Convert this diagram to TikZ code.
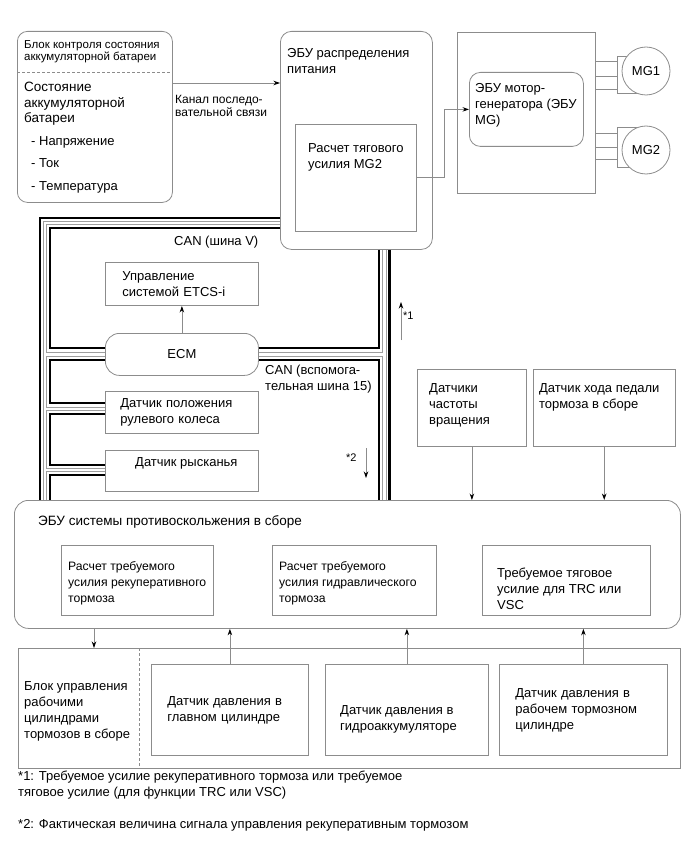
\documentclass[tikz,border=0pt]{standalone}
\usepackage{fontspec}
\setmainfont{Liberation Sans}
\usepackage{tikz}
\usetikzlibrary{positioning}
\usetikzlibrary{arrows.meta}
\usetikzlibrary{calc}
\definecolor{boxgray}{rgb}{0.55,0.55,0.55}
\definecolor{wiregray}{rgb}{0.62,0.62,0.62}

\begin{document}
\begin{tikzpicture}[
            x = 1pt, y = -1pt, % one unit per pixel, y going down
            > = {Stealth[length=6.5pt, width=4.5pt, black]}, % arrow head style
            font = \fontsize{13}{16}\selectfont,
            line join = miter
        ]

        \tikzstyle{box}=[
            draw = boxgray,
            line width = 0.8pt,
            fill = white,
            inner sep = 0pt,
            anchor = north west,
            align = left
        ]
        \tikzstyle{rbox}=[box, rounded corners = 11pt]
        \tikzstyle{txt}=[inner sep = 0pt, anchor = north west, align = left]
        \tikzstyle{sig}=[draw = boxgray, line width = 0.8pt, ->]
        \tikzstyle{wire}=[draw = boxgray, line width = 0.8pt]
        \tikzstyle{canH}=[line width = 2.1pt, black]
        \tikzstyle{canL}=[line width = 0.7pt, wiregray]

        \useasboundingbox (0,0) rectangle (690,853);

        % battery monitor
        \node[rbox, rounded corners = 10pt, minimum width = 155pt, minimum height = 171pt] (BAT) at (17,31) {};
        \node[txt, font = \fontsize{11.5}{12.5}\selectfont] (BATt) at (24,40) {Блок контроля состояния\\аккумуляторной батареи};
        \draw[wire, dash pattern = on 3pt off 2pt] ($(BAT.north west)+(0,41)$) -- ($(BAT.north east)+(0,41)$);
        \node[txt, font = \fontsize{13.5}{15.5}\selectfont] (BATs) at (24,82) {Состояние\\аккумуляторной\\батареи};
        \node[txt] (BATi) at (31,136) {- Напряжение\\[6.5pt]- Ток\\[6.5pt]- Температура};

        % power management
        \node[rbox, minimum width = 152pt, minimum height = 218pt] (PECU) at (280,31) {};
        \node[txt] (PECUt) at (287,48) {ЭБУ распределения\\питания};
        \node[box, minimum width = 121pt, minimum height = 107pt] (PCALC) at (295,124) {};
        \node[txt] (PCALCt) at (308,143) {Расчет тягового\\усилия MG2};

        \coordinate (SL) at ($(BAT.north east)+(0,52)$);
        \draw[sig] (SL) -- (SL -| PECU.west);
        \node[txt, font = \fontsize{12}{13}\selectfont] (SLt) at (175,95) {Канал последо-\\вательной связи};

        % motor generator
        \node[box, minimum width = 138pt, minimum height = 161pt] (MGB) at (457,32) {};
        \node[rbox, minimum width = 114pt, minimum height = 74pt] (MGECU) at (469,72) {};
        \node[txt] (MGECUt) at (475,83) {ЭБУ мотор-\\генератора (ЭБУ\\MG)};
        \draw[sig] (PCALC.east) -- ++(28,0) |- (MGECU.west);

        \node[box, minimum width = 26pt, minimum height = 37pt] (MG1B) at (617,56) {};
        \node[box, minimum width = 26pt, minimum height = 40pt] (MG2B) at (617,127) {};
        \node[box, circle, minimum size = 48pt, anchor = center] (MG1) at (646,71) {MG1};
        \node[box, circle, minimum size = 48pt, anchor = center] (MG2) at (646,150) {MG2};
        \draw[wire] (MGB.east |- 0,61) -- (MG1B.west |- 0,61);
        \draw[wire] (MGB.east |- 0,76) -- (MG1B.west |- 0,76);
        \draw[wire] (MGB.east |- 0,89) -- (MG1B.west |- 0,89);
        \draw[wire] (MGB.east |- 0,133) -- (MG2B.west |- 0,133);
        \draw[wire] (MGB.east |- 0,147) -- (MG2B.west |- 0,147);
        \draw[wire] (MGB.east |- 0,159) -- (MG2B.west |- 0,159);

        % engine control
        \node[rbox, rounded corners = 14pt, minimum width = 153pt, minimum height = 42pt, align = center] (ECM) at (105,333) {ECM};
        \node[box, text width = 119pt, inner xsep = 17pt, minimum height = 43pt] (ETCS) [above = 27pt of ECM] {Управление\\системой ETCS-i};
        \draw[sig] (ECM) -- (ETCS);

        \node[box, text width = 123pt, inner xsep = 15pt, minimum height = 42pt] (STR) [below = 15pt of ECM] {Датчик положения\\рулевого колеса};
        \node[box, minimum width = 153pt, minimum height = 41pt] (YAW) [below = 16pt of STR] {};
        \node[txt] (YAWt) at ($(YAW.north west)+(30,8)$) {Датчик рысканья};

        \node[txt] (CANV) at (174,236) {CAN (шина V)};
        \node[txt] (CAN15) at (265,365) {CAN (вспомога-\\тельная шина 15)};

        % CAN buses, outer pair
        \draw[canH] (PECU.west |- 0,218) -- (40,218) -- (40,500);
        \draw[canL] (PECU.west |- 0,221.5) -- (43.5,221.5) -- (43.5,500);
        \draw[canL] (PECU.south -| 386,0) -- (386,500);
        \draw[canH] (PECU.south -| 389.5,0) -- (389.5,500);

        % CAN buses, inner pair
        \draw[canL] (PECU.west |- 0,224.5) -- (46.5,224.5) -- (46.5,352) -- (ECM.west |- 0,352);
        \draw[canH] (PECU.west |- 0,228) -- (50,228) -- (50,348) -- (ECM.west |- 0,348);
        \draw[canL] (ECM.west |- 0,356) -- (46.5,356) -- (46.5,407) -- (STR.west |- 0,407);
        \draw[canH] (ECM.west |- 0,360) -- (50,360) -- (50,403) -- (STR.west |- 0,403);
        \draw[canL] (STR.west |- 0,410.5) -- (46.5,410.5) -- (46.5,468.5) -- (YAW.west |- 0,468.5);
        \draw[canH] (STR.west |- 0,414) -- (50,414) -- (50,465) -- (YAW.west |- 0,465);
        \draw[canL] (YAW.west |- 0,471.5) -- (46.5,471.5) -- (46.5,500);
        \draw[canH] (YAW.west |- 0,475) -- (50,475) -- (50,500);
        \draw[canH] (PECU.south -| 379,0) -- (379,348) -- (ECM.east |- 0,348);
        \draw[canL] (PECU.south -| 382.5,0) -- (382.5,352) -- (ECM.east |- 0,352);
        \draw[canL] (ECM.east |- 0,356) -- (382.5,356) -- (382.5,500);
        \draw[canH] (ECM.east |- 0,360) -- (379,360) -- (379,500);

        % signals along the bus
        \coordinate (S1a) at (401,340);
        \coordinate (S1b) at (401,302);
        \draw[sig] (S1a) -- (S1b);
        \node[txt, font = \fontsize{11}{12}\selectfont] (S1t) at (403,312) {*1};
        \coordinate (S2a) at (366,448);
        \coordinate (S2b) at (366,478);
        \draw[sig] (S2a) -- (S2b);
        \node[txt, font = \fontsize{11}{12}\selectfont] (S2t) at (346,454) {*2};

        % wheel and pedal sensors
        \node[box, minimum width = 109pt, minimum height = 77pt] (SPD) at (417,369) {};
        \node[txt] (SPDt) at ($(SPD.north west)+(12,14)$) {Датчики\\частоты\\вращения};
        \node[box, minimum width = 142pt, minimum height = 77pt] (PED) [right = 6pt of SPD] {};
        \node[txt] (PEDt) at ($(PED.north west)+(6,14)$) {Датчик хода педали\\тормоза в сборе};

        % skid control
        \node[rbox, rounded corners = 14pt, minimum width = 666pt, minimum height = 128pt] (SKID) at (14,500) {};
        \node[txt, font = \fontsize{13.5}{16}\selectfont] (SKIDt) at (38,515) {ЭБУ системы противоскольжения в сборе};
        \node[box, minimum width = 152pt, minimum height = 70pt] (SK1) at (61,545) {};
        \node[txt, font = \fontsize{12.2}{16}\selectfont] (SK1t) at ($(SK1.north west)+(7,16)$) {Расчет требуемого\\усилия рекуперативного\\тормоза};
        \node[box, minimum width = 164pt, minimum height = 70pt] (SK2) at (272,545) {};
        \node[txt, font = \fontsize{12.2}{16}\selectfont] (SK2t) at ($(SK2.north west)+(7,16)$) {Расчет требуемого\\усилия гидравлического\\тормоза};
        \node[box, minimum width = 168pt, minimum height = 70pt] (SK3) at (482,545) {};
        \node[txt] (SK3t) at ($(SK3.north west)+(15,23)$) {Требуемое тяговое\\усилие для TRC или\\VSC};

        \draw[sig] (SPD) -- (SPD |- SKID.north);
        \draw[sig] (PED) -- (PED |- SKID.north);

        % brake actuator and pressure sensors
        \node[box, minimum width = 662pt, minimum height = 120pt] (BRK) at (18,648) {};
        \draw[wire, dash pattern = on 3pt off 2pt] ($(BRK.north west)+(121,0)$) -- ($(BRK.south west)+(121,0)$);
        \node[txt] (BRKt) at (24,681) {Блок управления\\рабочими\\цилиндрами\\тормозов в сборе};
        \node[box, text width = 125pt, inner xsep = 16pt, minimum height = 91pt] (PS1) at (151,664) {Датчик давления в\\главном цилиндре};
        \node[box, minimum width = 163pt, minimum height = 91pt] (PS2) at (325,664) {};
        \node[txt] (PS2t) at ($(PS2.north west)+(15,41)$) {Датчик давления в\\гидроаккумуляторе};
        \node[box, text width = 136pt, inner xsep = 16pt, minimum height = 91pt] (PS3) at (499,664) {Датчик давления в\\рабочем тормозном\\цилиндре};

        \coordinate (BA) at ($(BRK.north west)+(76,0)$);
        \draw[sig] (BA |- SKID.south) -- (BA);
        \draw[sig] (PS1) -- (PS1 |- SKID.south);
        \draw[sig] (PS2) -- (PS2 |- SKID.south);
        \draw[sig] (PS3) -- (PS3 |- SKID.south);

        % notes
        \node[txt] (NOTE1) at (18,771) {*1: Требуемое усилие рекуперативного тормоза или требуемое\\тяговое усилие (для функции TRC или VSC)};
        \node[txt] (NOTE2) at (18,819) {*2: Фактическая величина сигнала управления рекуперативным тормозом};

\end{tikzpicture}
\end{document}
